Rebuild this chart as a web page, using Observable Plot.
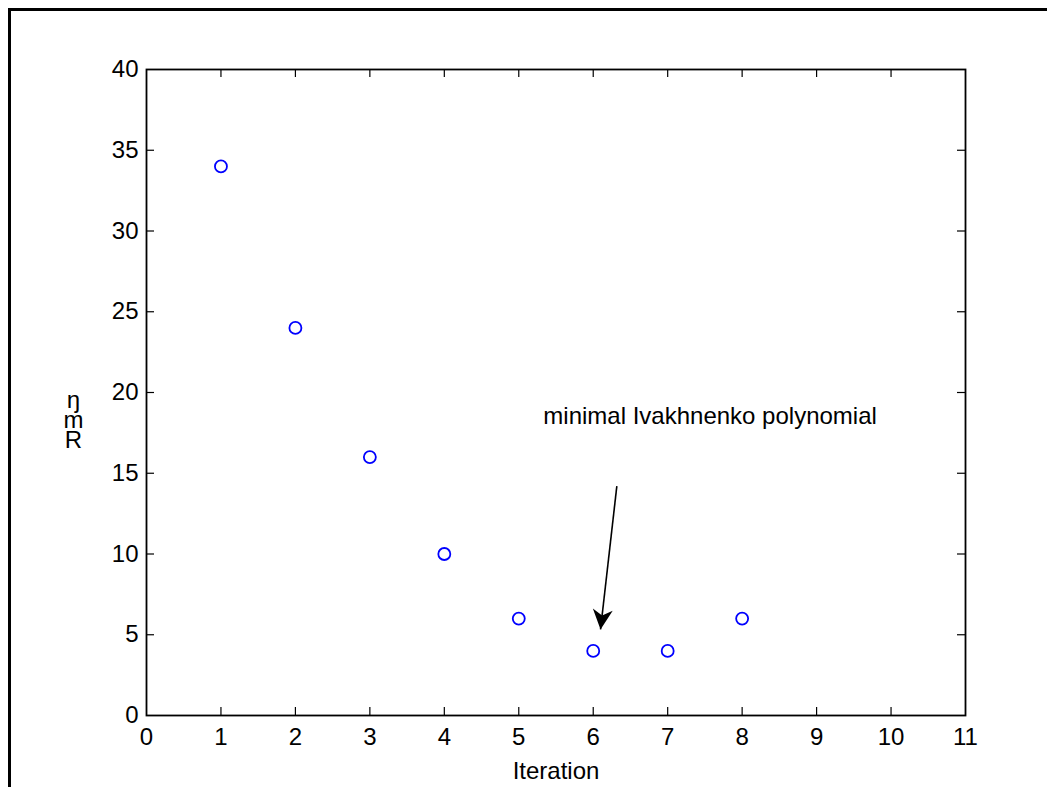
<!DOCTYPE html>
<html>
<head>
<meta charset="utf-8">
<script src="https://cdn.jsdelivr.net/npm/d3@7"></script>
<script src="https://cdn.jsdelivr.net/npm/@observablehq/plot@0.6"></script>
<style>
  html, body { margin: 0; padding: 0; background: #fff; }
  #fig { position: relative; width: 1047px; height: 787px; overflow: hidden; }
  #border { position: absolute; left: 8px; top: 8px; right: -10px; bottom: -10px;
            border-left: 3px solid #000; border-top: 3px solid #000; }
  #fig svg { position: absolute; left: 0; top: 0; }
</style>
</head>
<body>
<div id="fig"><div id="border"></div></div>
<script>
// Model error per GMDH iteration
const iterations = [1, 2, 3, 4, 5, 6, 7, 8];
const errors = [34, 24, 16, 10, 6, 4, 4, 6];

// Axis ticks
const xTicks = d3.range(0, 12);
const yTicks = d3.range(0, 45, 5);

// Annotation for the minimum
const noteText = ["minimal Ivakhnenko polynomial"];
const noteX = [5.33];
const noteY = [18.5];
const arrowFrom = [{x: 6.317, y: 14.2}];
const arrowTo = [{x: 6.098, y: 5.33}];

const xLabel = "Iteration";
const yLabelGlyphs = ["\u014B", "m", "R"];

const width = 1047, height = 787;
const mL = 146, mR = 82, mT = 69, mB = 72;
const innerW = width - mL - mR, innerH = height - mT - mB;
const tickLen = 8;
const font = "'Liberation Sans', Arial, sans-serif";

const points = iterations.map((x, i) => ({x, y: errors[i]}));
const arrows = arrowFrom.map((a, i) => ({x1: a.x, y1: a.y, x2: arrowTo[i].x, y2: arrowTo[i].y}));
const notes = noteText.map((t, i) => ({x: noteX[i], y: noteY[i], text: t}));
const yLabelText = yLabelGlyphs.join("");

const innerX = xTicks.slice(1, -1);
const innerY = yTicks.slice(1, -1);

const chart = Plot.plot({
  width, height,
  marginLeft: mL, marginRight: mR, marginTop: mT, marginBottom: mB,
  style: {fontFamily: font, fontSize: "24px", color: "#000", background: "transparent"},
  x: {domain: [0, 11], ticks: xTicks, label: null},
  y: {domain: [0, 40], ticks: yTicks, label: null},
  marks: [
    Plot.axisX({ticks: xTicks, tickSize: 0, tickPadding: 12, label: null, fontSize: 24}),
    Plot.axisY({ticks: yTicks, tickSize: 0, tickPadding: 8, label: null, fontSize: 24}),
    // inward ticks on all four sides
    Plot.tickX(innerX, {x: d => d, insetTop: innerH - tickLen, stroke: "#000", strokeWidth: 1.2}),
    Plot.tickX(innerX, {x: d => d, insetBottom: innerH - tickLen, stroke: "#000", strokeWidth: 1.2}),
    Plot.tickY(innerY, {y: d => d, insetRight: innerW - tickLen, stroke: "#000", strokeWidth: 1.2}),
    Plot.tickY(innerY, {y: d => d, insetLeft: innerW - tickLen, stroke: "#000", strokeWidth: 1.2}),
    Plot.frame({stroke: "#000", strokeWidth: 1.8}),
    Plot.dot(points, {x: "x", y: "y", r: 6, stroke: "#0000ff", strokeWidth: 1.8, fill: "none"}),
    Plot.link(arrows, {x1: "x1", y1: "y1", x2: "x2", y2: "y2", stroke: "#000", strokeWidth: 1.6}),
    Plot.text(notes, {x: "x", y: "y", text: "text", textAnchor: "start", fontSize: 24, fill: "#000"}),
    Plot.text([xLabel], {frameAnchor: "bottom", dy: 56, fontSize: 24, fill: "#000", lineAnchor: "middle"}),
    Plot.text([yLabelText], {frameAnchor: "left", dx: -73, dy: 16, fontSize: 24, fill: "#000", textAnchor: "middle"})
  ]
});

// Filled arrowhead for the annotation link
const ns = "http://www.w3.org/2000/svg";
const defs = document.createElementNS(ns, "defs");
const marker = document.createElementNS(ns, "marker");
marker.setAttribute("id", "headFilled");
marker.setAttribute("markerUnits", "userSpaceOnUse");
marker.setAttribute("viewBox", "-22 -12 24 24");
marker.setAttribute("markerWidth", "24");
marker.setAttribute("markerHeight", "24");
marker.setAttribute("refX", "0");
marker.setAttribute("refY", "0");
marker.setAttribute("orient", "auto");
marker.setAttribute("overflow", "visible");
const head = document.createElementNS(ns, "path");
head.setAttribute("d", "M0,0L-20,-10L-14,0L-20,10Z");
head.setAttribute("fill", "#000");
marker.appendChild(head);
defs.appendChild(marker);
chart.insertBefore(defs, chart.firstChild);
chart.querySelectorAll('g[aria-label="link"] path').forEach(p => {
  p.setAttribute("marker-end", "url(#headFilled)");
});

// Y label: glyphs stacked upright, bottom-to-top reading R, m, ŋ
chart.querySelectorAll("text").forEach(t => {
  if (t.textContent === yLabelText) {
    t.style.writingMode = "vertical-rl";
    t.style.textOrientation = "upright";
    t.style.letterSpacing = "-7px";
    t.querySelectorAll("tspan").forEach(s => s.removeAttribute("dy"));
    t.removeAttribute("dy");
  }
});

document.getElementById("fig").appendChild(chart);
</script>
</body>
</html>
